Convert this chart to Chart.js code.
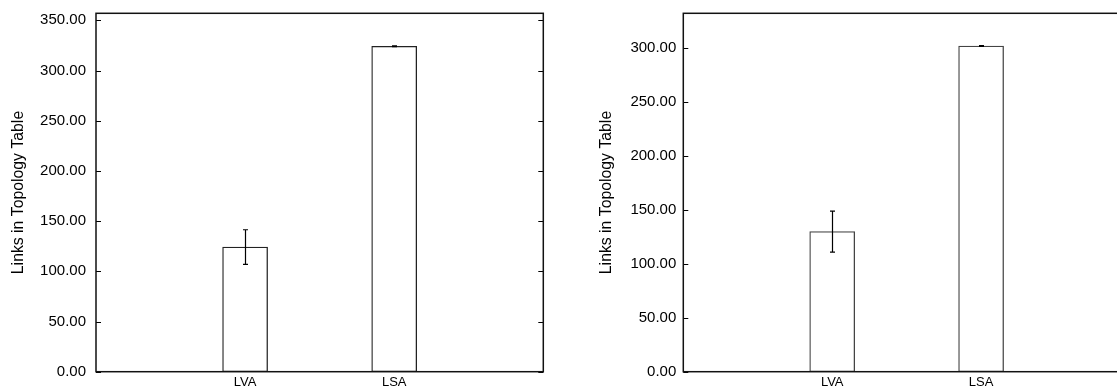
<!DOCTYPE html>
<html>
<head>
<meta charset="utf-8">
<script src="https://cdn.jsdelivr.net/npm/chart.js@4.4.1/dist/chart.umd.min.js"></script>
<style>
  html, body { margin: 0; padding: 0; background: #fff; overflow: hidden; }
  #wrap { position: relative; width: 1117px; height: 389px; overflow: hidden; background: #fff; }
  canvas { position: absolute; top: 0; }
</style>
</head>
<body>
<div id="wrap">
  <canvas id="c1" width="558" height="389" style="left:0px"></canvas>
  <canvas id="c2" width="590" height="389" style="left:558px"></canvas>
</div>
<script>
// ---- data ----
const categories = ['LVA', 'LSA'];
const categorySlots = [1, 2];          // positions of the categories on a 0..3 axis
const leftMeans = [124.2, 324.1];
const leftErrors = [17.2, 0.4];
const rightMeans = [130.0, 302.1];
const rightErrors = [19.0, 0.4];
const yTickValues = [0, 50, 100, 150, 200, 250, 300, 350];
const leftYMax = 357;
const rightYMax = 332.5;
const yAxisTitle = 'Links in Topology Table';

const FONT = "'Liberation Sans', Arial, Helvetica, sans-serif";

const framePlugin = {
  id: 'frameAndErrors',
  afterDatasetsDraw(chart) {
    const ctx = chart.ctx;
    const area = chart.chartArea;
    const xs = chart.scales.x, ys = chart.scales.y;
    ctx.save();
    // error bars
    const ds = chart.data.datasets[0];
    ctx.strokeStyle = '#000';
    ctx.lineWidth = 1.2;
    ds.data.forEach((pt, i) => {
      const e = ds.errors[i];
      const x = Math.round(xs.getPixelForValue(pt.x)) + 0.5;
      const yTop = ys.getPixelForValue(pt.y + e);
      const yBot = ys.getPixelForValue(pt.y - e);
      ctx.beginPath();
      ctx.moveTo(x, yTop); ctx.lineTo(x, yBot);
      ctx.moveTo(x - 2.5, yTop); ctx.lineTo(x + 2.5, yTop);
      ctx.moveTo(x - 2.5, yBot); ctx.lineTo(x + 2.5, yBot);
      ctx.stroke();
    });
    // inward ticks on left and right borders
    ctx.lineWidth = 1;
    ctx.strokeStyle = '#000';
    ys.ticks.forEach(t => {
      const y = Math.round(ys.getPixelForValue(t.value)) + 0.5;
      ctx.beginPath();
      ctx.moveTo(area.left, y); ctx.lineTo(area.left + 5, y);
      ctx.moveTo(area.right, y); ctx.lineTo(area.right - 5, y);
      ctx.stroke();
    });
    // frame
    ctx.lineWidth = 1.5;
    ctx.strokeStyle = '#111';
    ctx.strokeRect(area.left, area.top, area.right - area.left, area.bottom - area.top);
    ctx.restore();
  }
};

function makeChart(id, means, errors, yMax, cfg) {
  const data = categorySlots.map((s, i) => ({ x: s, y: means[i] }));
  return new Chart(document.getElementById(id), {
    type: 'bar',
    data: {
      datasets: [{
        data: data,
        errors: errors,
        backgroundColor: '#ffffff',
        borderColor: cfg.barColor,
        borderWidth: 1.3,
        borderSkipped: false,
        barThickness: 45
      }]
    },
    options: {
      responsive: false,
      animation: false,
      events: [],
      layout: { padding: { left: cfg.padLeft, top: 13.3, right: cfg.padRight, bottom: 0 } },
      plugins: { legend: { display: false }, tooltip: { enabled: false }, title: { display: false } },
      scales: {
        x: {
          type: 'linear',
          offset: false,
          min: 0, max: 3,
          afterBuildTicks: (s) => { s.ticks = categorySlots.map(v => ({ value: v })); },
          afterFit: (s) => { s.height = 17.3; s.paddingLeft = 0; s.paddingRight = 0; },
          grid: { display: false, drawTicks: false },
          border: { display: false },
          ticks: {
            autoSkip: false,
            maxRotation: 0,
            padding: 3,
            color: '#000',
            font: { family: FONT, size: 13 },
            callback: (v) => { const i = categorySlots.indexOf(v); return i >= 0 ? categories[i] : ''; }
          }
        },
        y: {
          min: 0, max: yMax,
          afterBuildTicks: (s) => { s.ticks = yTickValues.filter(v => v <= yMax).map(v => ({ value: v })); },
          afterFit: (s) => { s.width = cfg.yWidth; s.paddingTop = 0; s.paddingBottom = 0; },
          grid: { display: false, drawTicks: false },
          border: { display: false },
          ticks: {
            padding: cfg.tickPad,
            color: '#000',
            font: { family: FONT, size: 15 },
            callback: (v) => Number(v).toFixed(2)
          },
          title: {
            display: true,
            text: yAxisTitle,
            color: '#000',
            font: { family: FONT, size: 15.8 },
            padding: { top: 9, bottom: 0 }
          }
        }
      }
    },
    plugins: [framePlugin]
  });
}

makeChart('c1', leftMeans, leftErrors, leftYMax,
  { padLeft: 0, padRight: 14.7, yWidth: 96, tickPad: 10, barColor: '#222' });
makeChart('c2', rightMeans, rightErrors, rightYMax,
  { padLeft: 30, padRight: 18, yWidth: 95.3, tickPad: 7, barColor: '#444' });
</script>
</body>
</html>
